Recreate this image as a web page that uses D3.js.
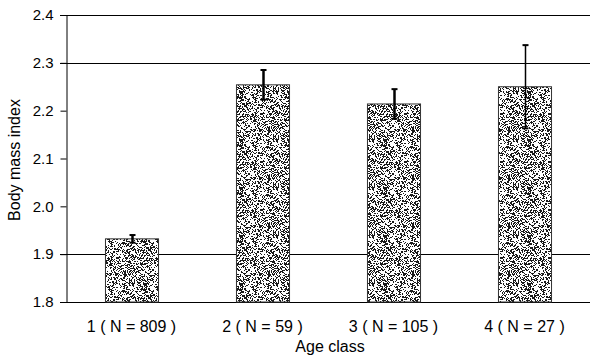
<!DOCTYPE html>
<html><head><meta charset="utf-8">
<script src="https://cdn.jsdelivr.net/npm/d3@7"></script>
<style>body{margin:0;background:#fff}svg{display:block}</style>
</head><body>
<svg id="c" width="600" height="360"></svg>
<script>
const categories = ["1 ( N = 809 )", "2 ( N = 59 )", "3 ( N = 105 )", "4 ( N = 27 )"];
const means = [1.932, 2.254, 2.214, 2.250];
const errors = [0.008, 0.031, 0.031, 0.087];
const yTicks = [1.8, 1.9, 2.0, 2.1, 2.2, 2.3, 2.4];
const gridValues = [1.8, 1.9, 2.3, 2.4];

const FONT = "Liberation Sans, Arial, sans-serif";
const svg = d3.select("#c");
const m = {l: 66, r: 10, t: 15, b: 58};
const W = 600, H = 360;
const x = d3.scaleBand().domain(categories).range([m.l, W - m.r]).paddingInner(0.595).paddingOuter(0.2975);
const y = d3.scaleLinear().domain([1.8, 2.4]).range([H - m.b, m.t]);

// stipple texture (deterministic hash, decorative only)
const T = 48;
const defs = svg.append("defs");
const pat = defs.append("pattern").attr("id", "stip").attr("patternUnits", "userSpaceOnUse")
  .attr("width", T).attr("height", T);
pat.append("rect").attr("width", T).attr("height", T).attr("fill", "#fff");
let p = "";
for (let i = 0; i < T; i++) for (let j = 0; j < T; j++) {
  let h = (i * 374761393 + j * 668265263) | 0;
  h = Math.imul(h ^ (h >>> 13), 1274126177);
  h = (h ^ (h >>> 16)) >>> 0;
  if ((h % 1000) < 400) p += `M${i},${j}h1v1h-1z`;
}
pat.append("path").attr("d", p).attr("fill", "#1a1a1a");

// gridlines
svg.append("g").selectAll("line").data(gridValues).join("line")
  .attr("x1", m.l - 6).attr("x2", W - m.r)
  .attr("y1", d => Math.round(y(d)) + 0.5).attr("y2", d => Math.round(y(d)) + 0.5)
  .attr("stroke", "#000").attr("stroke-width", 1);

// y axis
const ya = svg.append("g").attr("transform", `translate(${m.l + 0.5},0)`)
  .call(d3.axisLeft(y).tickValues(yTicks).tickFormat(d3.format(".1f")).tickSize(6).tickPadding(7));
ya.select(".domain").attr("stroke", "#000");
ya.selectAll("text").attr("font-family", FONT).attr("font-size", 15).attr("fill", "#000");

// bars
svg.append("g").selectAll("rect").data(means).join("rect")
  .attr("x", (d, i) => x(categories[i]) + 0.5)
  .attr("y", d => y(d))
  .attr("width", x.bandwidth())
  .attr("height", d => y(1.8) - y(d))
  .attr("fill", "url(#stip)").attr("stroke", "#333").attr("stroke-width", 1);

// error bars
const eb = svg.append("g").attr("stroke", "#000");
means.forEach((d, i) => {
  const cx = Math.round(x(categories[i]) + x.bandwidth() / 2) + 0.5;
  const sw = i === 3 ? 1.5 : 2.5;
  eb.append("line").attr("x1", cx).attr("x2", cx).attr("y1", y(d + errors[i])).attr("y2", y(d - errors[i])).attr("stroke-width", sw);
  eb.append("line").attr("x1", cx - 3).attr("x2", cx + 3).attr("y1", y(d + errors[i])).attr("y2", y(d + errors[i])).attr("stroke-width", 2);
  eb.append("line").attr("x1", cx - 3).attr("x2", cx + 3).attr("y1", y(d - errors[i])).attr("y2", y(d - errors[i])).attr("stroke-width", 2);
});

// x labels
svg.append("g").selectAll("text").data(categories).join("text")
  .attr("x", d => x(d) + x.bandwidth() / 2).attr("y", 332)
  .attr("text-anchor", "middle").attr("font-family", FONT)
  .attr("font-size", 16).text(d => d);

svg.append("text").attr("x", 330).attr("y", 352).attr("text-anchor", "middle")
  .attr("font-family", FONT).attr("font-size", 16).text("Age class");

svg.append("text").attr("transform", "translate(20,160) rotate(-90)").attr("text-anchor", "middle")
  .attr("font-family", FONT).attr("font-size", 16).text("Body mass index");
</script>
</body></html>
